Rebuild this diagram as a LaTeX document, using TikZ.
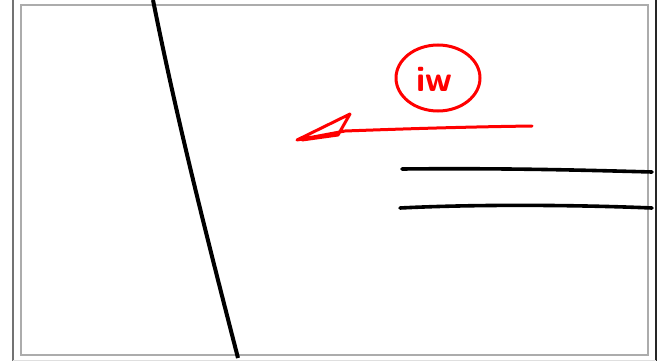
\documentclass[tikz,border=0pt]{standalone}
\usetikzlibrary{shapes.geometric}
\begin{document}
\begin{tikzpicture}[x=1pt,y=-1pt,
  frameline/.style={line width=2pt},
  ink/.style={line width=3.6pt,line cap=round,line join=round},
  redink/.style={draw={rgb,255:red,255;green,0;blue,0},line width=3pt,line cap=round,line join=round}]
\useasboundingbox (0,0) rectangle (660,361);
% outer frame lines
\draw[frameline,gray!90!black] (13,0) -- (13,361);
\draw[frameline,black!85] (656,0) -- (656,361);
\draw[line width=1pt,gray!25] (13,360) -- (656,360);
% inner frame
\draw[line width=2pt,gray!65] (21,5.5) rectangle (647.5,354.5);
% black curve
\coordinate (ctop) at (153,0);
\coordinate (cbot) at (238,358);
\draw[ink,line width=4pt,line cap=butt] (ctop) .. controls (177,120) and (207,238) .. (cbot);
% two black lines
\coordinate (a1) at (402,169); \coordinate (a2) at (652,172);
\coordinate (b1) at (400,208); \coordinate (b2) at (652,208);
\draw[ink] (a1) .. controls (500,168) and (580,170) .. (a2);
\draw[ink] (b1) .. controls (480,204) and (580,205) .. (b2);
% red circle and label
\node[draw={rgb,255:red,255;green,0;blue,0},line width=3pt,ellipse,minimum width=84pt,minimum height=66pt,inner sep=0pt] (circ) at (438,78) {};
\node[text={rgb,255:red,255;green,0;blue,0},font=\fontsize{36}{36}\sffamily\bfseries\selectfont,inner sep=0pt] (lbl) at (434,79) {iw};
% red arrow
\coordinate (tail) at (532,126);
\coordinate (tip) at (297,140);
\draw[redink] (tail) .. controls (460,127) and (400,129) .. (345,131) -- (tip) -- (350,114) -- (338,135) -- (302,140);
\end{tikzpicture}
\end{document}
